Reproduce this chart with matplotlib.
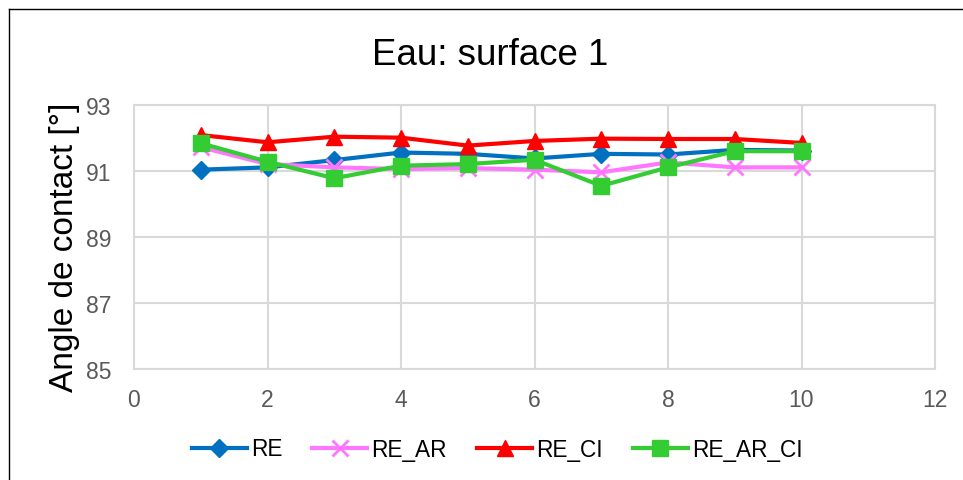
import matplotlib
matplotlib.use("Agg")
import matplotlib.pyplot as plt
from matplotlib.lines import Line2D

plt.rcParams['font.family'] = ['Liberation Sans', 'DejaVu Sans']

x = [1, 2, 3, 4, 5, 6, 7, 8, 9, 10]
re = [91.04, 91.11, 91.33, 91.56, 91.52, 91.38, 91.52, 91.50, 91.64, 91.62]
re_ar = [91.72, 91.21, 91.11, 91.06, 91.09, 91.04, 90.96, 91.26, 91.11, 91.11]
re_ci = [92.09, 91.87, 92.04, 92.01, 91.77, 91.91, 91.98, 91.97, 91.97, 91.85]
re_ar_ci = [91.84, 91.28, 90.78, 91.16, 91.21, 91.34, 90.55, 91.11, 91.60, 91.60]

fig = plt.figure(figsize=(9.63, 4.81), dpi=100)
ax = fig.add_axes([134 / 963, 1 - 370 / 481, (935 - 134) / 963, (370 - 106) / 481])

ax.plot(x, re, color='#0070c0', marker='D', markersize=9, linewidth=3, label='RE')
ax.plot(x, re_ar, color='#ff77ff', marker='x', markersize=11, markeredgewidth=2, linewidth=3, label='RE_AR')
ax.plot(x, re_ci, color='#ff0000', marker='^', markersize=11, linewidth=3, label='RE_CI')
ax.plot(x, re_ar_ci, color='#33cc33', marker='s', markersize=11, linewidth=3, label='RE_AR_CI')

ax.set_xlim(0, 12)
ax.set_ylim(85, 93)
ax.set_xticks(range(0, 13, 2))
ax.set_yticks(range(85, 94, 2))
ax.grid(True, color='#d9d9d9', linewidth=1.5)
ax.set_axisbelow(True)
for s in ax.spines.values():
    s.set_color('#d9d9d9')
    s.set_linewidth(1.5)
ax.tick_params(length=0, labelsize=16.5, labelcolor='#595959')
ax.tick_params(axis='y', pad=16)
ax.tick_params(axis='x', pad=14)

fig.text(490 / 963, 1 - 65 / 481, 'Eau: surface 1', fontsize=26.4, ha='center', va='baseline')
fig.text(65 / 963, 1 - 247 / 481, 'Angle de contact [°]', fontsize=24, rotation=90,
         ha='center', va='center')

ax.legend(loc='center', bbox_to_anchor=(497 / 963, 1 - 450 / 481), bbox_transform=fig.transFigure,
          ncol=4, frameon=False, fontsize=16.3, handlelength=2.43, columnspacing=1.33,
          handletextpad=0.18, borderpad=0)

# chart border (top and left visible)
fig.add_artist(Line2D([9 / 963, 1], [1 - 10 / 481, 1 - 10 / 481], color='black', linewidth=1))
fig.add_artist(Line2D([9 / 963, 9 / 963], [0, 1 - 10 / 481], color='black', linewidth=1))

fig.savefig('out.png', dpi=100)
